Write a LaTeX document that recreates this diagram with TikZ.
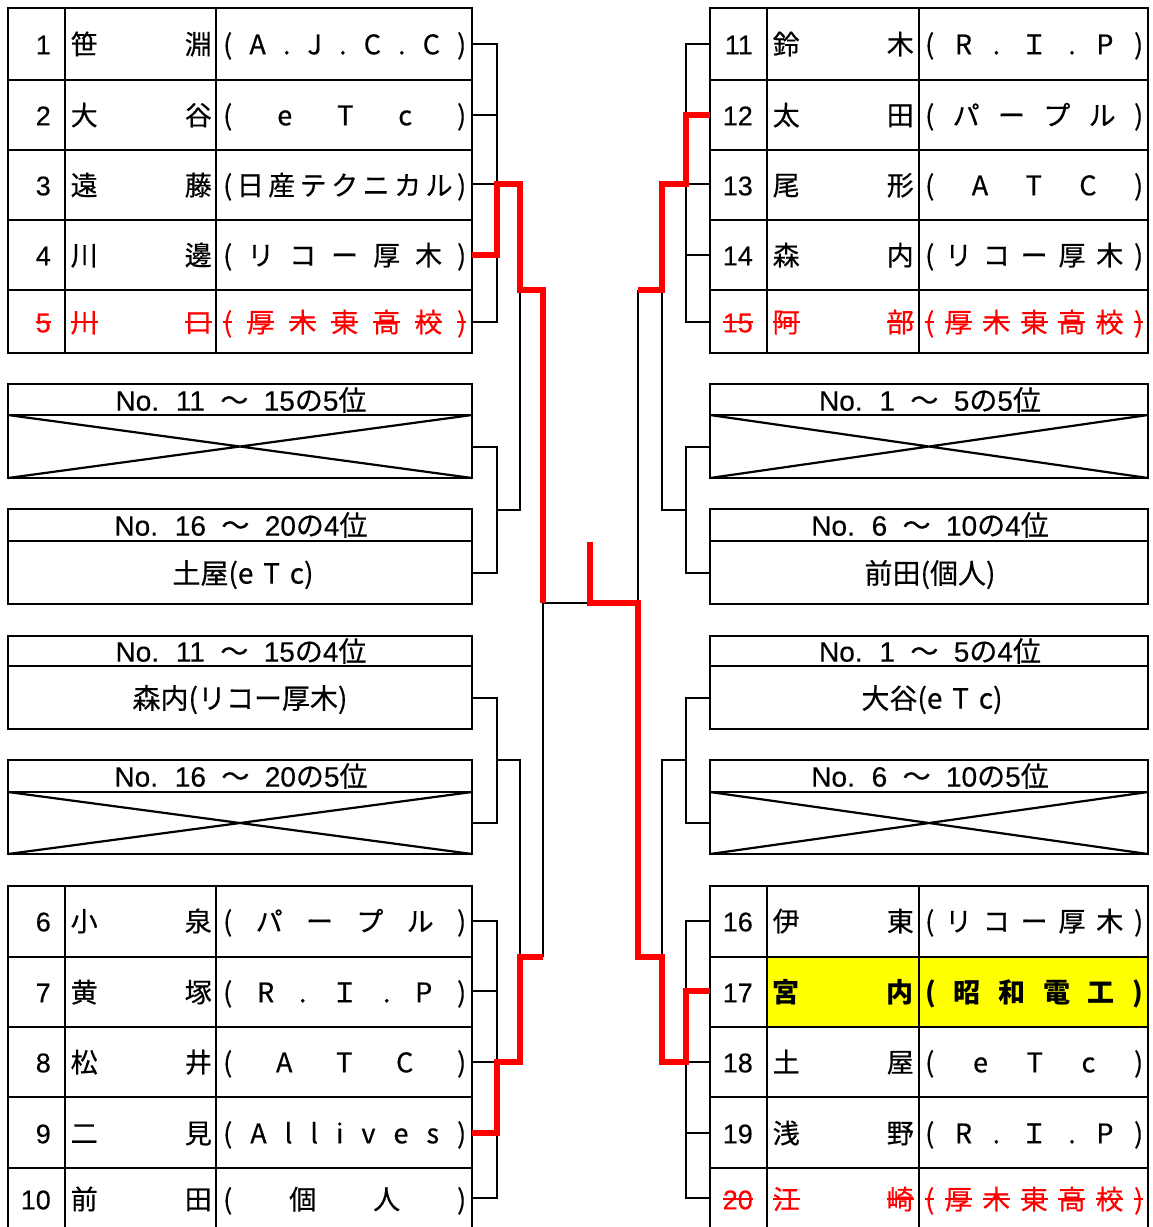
\documentclass[tikz,border=0pt]{standalone}
\usepackage{fontspec}
\setmainfont{Noto Sans CJK JP}[UprightFeatures={FakeBold=0.4}]
\newfontfamily\lat{Liberation Sans}[FakeBold=0.3]
\definecolor{redline}{HTML}{FF0000}
\definecolor{hl}{HTML}{FFFF00}
\newsavebox\stkbox
\newcommand\stk[1]{\sbox\stkbox{#1}\rlap{\usebox\stkbox}\rule[0.34em]{\wd\stkbox}{0.08em}}
\makeatletter
\def\spreadw#1#2{\def\spr@w{#1}\spr@a#2\@nil}
\def\spr@a#1{\ifx\@nil#1\else\spr@w{#1}\expandafter\spr@b\fi}
\def\spr@b#1{\ifx\@nil#1\else\hfill\spr@w{#1}\expandafter\spr@b\fi}
\def\plainw#1{#1}
\makeatother
\newcommand\hd[3]{{\lat No.}\hspace{0.6em}{\lat #1}\hspace{0.55em}～\hspace{0.55em}{\lat #2}の{\lat #3}位}
\tikzset{
  tbl/.style={line width=2.7pt},
  crs/.style={line width=2.2pt},
  brk/.style={line width=2.7pt, line join=miter},
  win/.style={line width=6pt, draw=redline, line join=miter},
  txt/.style={inner sep=0pt, font=\fontsize{27}{27}\selectfont, text height=23.8pt, text depth=3.2pt},
  txtb/.style={txt, font=\fontsize{27}{27}\selectfont\bfseries},
  gone/.style={text=redline},
  hdr/.style={inner sep=0pt, font=\fontsize{28}{28}\selectfont, text height=24.6pt, text depth=3.4pt},
  ctr/.style={inner sep=0pt, font=\fontsize{28}{28}\selectfont, text height=24.6pt, text depth=3.4pt},
}
% #1 id, #2 table left x, #3 y, #4 number, #5 name1, #6 name2, #7 team, #8 team width, #9 style
\newcommand\entry[9]{%
  \node[txt,anchor=east,#9] (#1num) at ({#2+43},#3) {\mdseries\lat #4};
  \node[txt,anchor=west,#9] (#1fn) at ({#2+62.5},#3) {#5};
  \node[txt,anchor=east,#9] (#1ln) at ({#2+204},#3) {#6};
  \node[txt,anchor=west,#9] (#1tm) at ({#2+215},#3) {\makebox[#8][s]{#7}};
}
\begin{document}
\begin{tikzpicture}[x=1pt,y=-1pt]
\clip (0,0) rectangle (1152,1227);
\fill[white] (0,0) rectangle (1152,1227);
% highlight
\fill[hl] (767,957) rectangle (1148,1027);
% ---------- tables ----------
\foreach \xa/\xb/\xc/\xd in {8/65/216/472, 710/767/919/1148}{
  \draw[tbl] (\xa,8) rectangle (\xd,353);
  \foreach \yy in {80,150,220,290} \draw[tbl] (\xa,\yy) -- (\xd,\yy);
  \draw[tbl] (\xb,8) -- (\xb,353) (\xc,8) -- (\xc,353);
  \draw[tbl] (\xa,1240) -- (\xa,886) -- (\xd,886) -- (\xd,1240);
  \foreach \yy in {957,1027,1097,1168} \draw[tbl] (\xa,\yy) -- (\xd,\yy);
  \draw[tbl] (\xb,886) -- (\xb,1240) (\xc,886) -- (\xc,1240);
  % boxes
  \draw[tbl] (\xa,384) rectangle (\xd,478);
  \draw[tbl] (\xa,415) -- (\xd,415);
  \draw[crs] (\xa,415) -- (\xd,478) (\xa,478) -- (\xd,415);
  \draw[tbl] (\xa,509) rectangle (\xd,604);
  \draw[tbl] (\xa,541) -- (\xd,541);
  \draw[tbl] (\xa,636) rectangle (\xd,729);
  \draw[tbl] (\xa,666) -- (\xd,666);
  \draw[tbl] (\xa,760) rectangle (\xd,854);
  \draw[tbl] (\xa,792) -- (\xd,792);
  \draw[crs] (\xa,792) -- (\xd,854) (\xa,854) -- (\xd,792);
}
% ---------- box texts ----------
\node[hdr] (h1) at (241,400) {\hd{11}{15}{5}};
\node[hdr] (h2) at (241,525) {\hd{16}{20}{4}};
\node[hdr] (h3) at (241,651) {\hd{11}{15}{4}};
\node[hdr] (h4) at (241,776) {\hd{16}{20}{5}};
\node[hdr] (h5) at (930,400) {\hd{1}{5}{5}};
\node[hdr] (h6) at (930,525) {\hd{6}{10}{4}};
\node[hdr] (h7) at (930,651) {\hd{1}{5}{4}};
\node[hdr] (h8) at (930,776) {\hd{6}{10}{5}};
\node[ctr] (c1) at (243,573) {土屋(e\hspace{0.35em}T\hspace{0.35em}c)};
\node[ctr] (c2) at (240,698) {森内(リコー厚木)};
\node[ctr] (c3) at (930,573) {前田(個人)};
\node[ctr] (c4) at (932,698) {大谷(e\hspace{0.35em}T\hspace{0.35em}c)};
% ---------- entries ----------
\entry{r1}{8}{44}{1}{笹}{淵}{\spreadw\plainw{(A.J.C.C)}}{243pt}{}
\entry{r2}{8}{115}{2}{大}{谷}{\spreadw\plainw{(eTc)}}{243pt}{}
\entry{r3}{8}{185}{3}{遠}{藤}{\spreadw\plainw{(日産テクニカル)}}{243pt}{}
\entry{r4}{8}{255}{4}{川}{邊}{\spreadw\plainw{(リコー厚木)}}{243pt}{}
\entry{r5}{8}{322}{\stk{5}}{\stk{川}}{\stk{口}}{\spreadw\stk{(厚木東高校)}}{243pt}{gone}
\entry{r6}{8}{921}{6}{小}{泉}{\spreadw\plainw{(パープル)}}{243pt}{}
\entry{r7}{8}{992}{7}{黄}{塚}{\spreadw\plainw{(R.Ｉ.P)}}{243pt}{}
\entry{r8}{8}{1062}{8}{松}{井}{\spreadw\plainw{(ATC)}}{243pt}{}
\entry{r9}{8}{1133}{9}{二}{見}{\spreadw\plainw{(Allives)}}{243pt}{}
\entry{r10}{8}{1199}{10}{前}{田}{\spreadw\plainw{(個人)}}{243pt}{}
\entry{r11}{710}{44}{11}{鈴}{木}{\spreadw\plainw{(R.Ｉ.P)}}{218pt}{}
\entry{r12}{710}{115}{12}{太}{田}{\spreadw\plainw{(パープル)}}{218pt}{}
\entry{r13}{710}{185}{13}{尾}{形}{\spreadw\plainw{(ATC)}}{218pt}{}
\entry{r14}{710}{255}{14}{森}{内}{\spreadw\plainw{(リコー厚木)}}{218pt}{}
\entry{r15}{710}{322}{\stk{15}}{\stk{阿}}{\stk{部}}{\spreadw\stk{(厚木東高校)}}{218pt}{gone}
\entry{r16}{710}{921}{16}{伊}{東}{\spreadw\plainw{(リコー厚木)}}{218pt}{}
\entry{r17}{710}{992}{17}{宮}{内}{\spreadw\plainw{(昭和電工)}}{218pt}{txtb}
\entry{r18}{710}{1062}{18}{土}{屋}{\spreadw\plainw{(eTc)}}{218pt}{}
\entry{r19}{710}{1133}{19}{浅}{野}{\spreadw\plainw{(R.Ｉ.P)}}{218pt}{}
\entry{r20}{710}{1199}{\stk{20}}{\stk{江}}{\stk{崎}}{\spreadw\stk{(厚木東高校)}}{218pt}{gone}
% ---------- bracket coordinates ----------
\coordinate (lx1) at (497,0); \coordinate (rx1) at (686,0);
\foreach \n/\yy in {1/44,2/115,3/184,4/255,5/322,6/921,7/991,8/1062,9/1133,10/1198}{
  \coordinate (p\n) at (472,\yy);}
\foreach \n/\yy in {11/44,12/115,13/184,14/255,15/322,16/921,17/991,18/1062,19/1133,20/1198}{
  \coordinate (p\n) at (710,\yy);}
\coordinate (bl1) at (472,447); \coordinate (bl2) at (472,573);
\coordinate (bl3) at (472,698); \coordinate (bl4) at (472,823);
\coordinate (br1) at (710,447); \coordinate (br2) at (710,573);
\coordinate (br3) at (710,698); \coordinate (br4) at (710,823);
\coordinate (LA) at (520,184); \coordinate (LB) at (497,510); \coordinate (LAB) at (520,290);
\coordinate (LT) at (543,290); \coordinate (LD) at (497,760); \coordinate (LC) at (520,1062);
\coordinate (LCD) at (520,957); \coordinate (LBo) at (543,957);
\coordinate (F) at (543,603); \coordinate (FC) at (590,603); \coordinate (Ch) at (590,542);
\coordinate (FR) at (638,603);
\coordinate (RA) at (662,184); \coordinate (RB) at (686,510); \coordinate (RAB) at (662,290);
\coordinate (RT) at (638,290); \coordinate (RD) at (686,760); \coordinate (RC) at (662,1062);
\coordinate (RCD) at (662,957); \coordinate (RBo) at (638,957);
% ---------- black brackets ----------
\draw[brk] (p1) -- (p1 -| lx1) -- (p5 -| lx1) -- (p5);
\foreach \n in {2,3,4} \draw[brk] (p\n) -- (p\n -| lx1);
\draw[brk] (p6) -- (p6 -| lx1) -- (p10 -| lx1) -- (p10);
\foreach \n in {7,8,9} \draw[brk] (p\n) -- (p\n -| lx1);
\draw[brk] (p11) -- (p11 -| rx1) -- (p15 -| rx1) -- (p15);
\foreach \n in {12,13,14} \draw[brk] (p\n) -- (p\n -| rx1);
\draw[brk] (p16) -- (p16 -| rx1) -- (p20 -| rx1) -- (p20);
\foreach \n in {17,18,19} \draw[brk] (p\n) -- (p\n -| rx1);
\draw[brk] (bl1) -- (bl1 -| lx1) -- (bl2 -| lx1) -- (bl2);
\draw[brk] (bl3) -- (bl3 -| lx1) -- (bl4 -| lx1) -- (bl4);
\draw[brk] (br1) -- (br1 -| rx1) -- (br2 -| rx1) -- (br2);
\draw[brk] (br3) -- (br3 -| rx1) -- (br4 -| rx1) -- (br4);
\draw[brk] (LB) -- (LB -| LAB) -- (LAB);
\draw[brk] (LD) -- (LD -| LCD) -- (LCD);
\draw[brk] (RB) -- (RB -| RAB) -- (RAB);
\draw[brk] (RD) -- (RD -| RCD) -- (RCD);
\draw[brk] (F) -- (LBo);
\draw[brk] (F) -- (FC);
\draw[brk] (RT) -- (FR);
% ---------- winners (red) ----------
\draw[win] (p4) -- (p4 -| lx1) -- (p3 -| lx1) -- (LA) -- (LAB) -- (LT) -- (F);
\draw[win] (p9) -- (p9 -| lx1) -- (p8 -| lx1) -- (LC) -- (LCD) -- (LBo);
\draw[win] (p12) -- (p12 -| rx1) -- (p13 -| rx1) -- (RA) -- (RAB) -- (RT);
\draw[win] (p17) -- (p17 -| rx1) -- (p18 -| rx1) -- (RC) -- (RCD) -- (RBo) -- (FR) -- (FC) -- (Ch);
\end{tikzpicture}
\end{document}
